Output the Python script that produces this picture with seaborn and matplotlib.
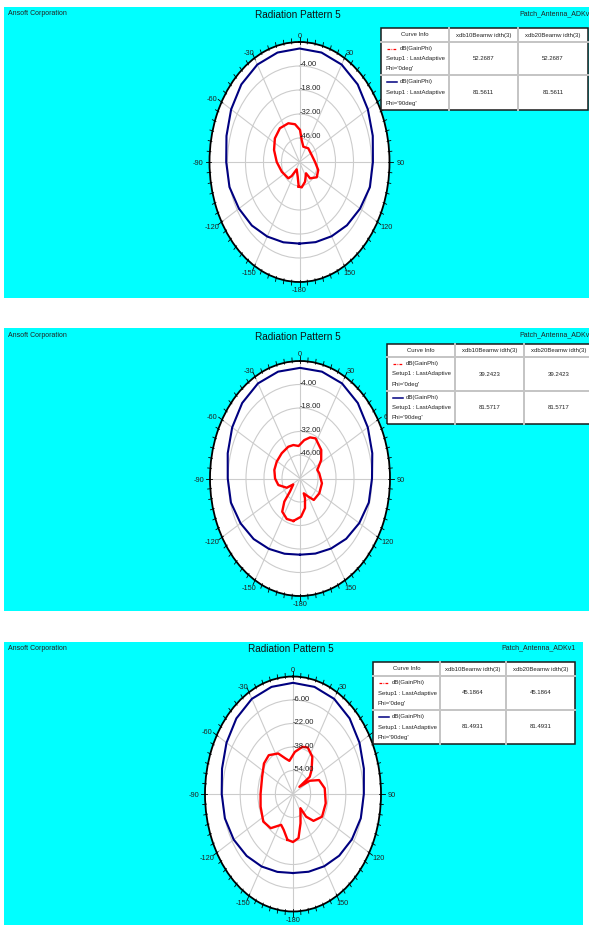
import numpy as np
import matplotlib
matplotlib.use("Agg")
import matplotlib.pyplot as plt
from matplotlib.patches import Rectangle
from matplotlib.lines import Line2D
import seaborn as sns

W, H = 589, 925

# ---- data (angle in deg, gain in dB) ----
theta_ticks = [0, 30, 60, 90, 120, 150, 180, 210, 240, 270, 300, 330]
theta_labels = ["0", "30", "60", "90", "120", "150", "-180", "-150", "-120", "-90", "-60", "-30"]

blue_ang = [-180, -165, -150, -135, -120, -105, -90, -75, -60, -45, -30, -15,
            0, 15, 30, 45, 60, 75, 90, 105, 120, 135, 150, 165]

# panel 1
red1_ang = [-177.6, -170.8, -152.9, -143.4, -137.5, -112.4, -90, -70.5, -54.2, -37.7,
            -21, -9, 1.2, 7.6, 18.6, 40.4, 66.7, 90, 107.8, 123.6, 139.2, 142.3, 159.5, 173.4]
red1_db = [-45.6, -51.3, -55.2, -49.8, -47.1, -45.1, -42.3, -39.0, -36.4, -35.1,
           -35.8, -37.7, -41.3, -47.1, -50.6, -49.5, -49.7, -47.9, -44.7, -43.9, -47.4, -51.7, -47.7, -45.1]
blue1_db = [-12.4, -11.5, -9.8, -7.6, -5.6, -3.6, -3.0, -1.2, 1.4, 4.0, 5.6, 6.1,
            6.2, 6.1, 5.6, 4.0, 1.4, -1.0, -2.9, -3.3, -5.6, -7.8, -10.0, -11.6]
rings1 = [-46, -32, -18, -4]
beam1 = [["52.2687", "52.2687"], ["81.5611", "81.5611"]]

# panel 2
red2_ang = [-168.4, -156.9, -145, -138.5, -135, -124, -118, -103, -90, -75.7, -61, -43.4,
            -25.7, -14.6, -3.2, 8.2, 17.7, 26.9, 44.2, 56.3, 69.3, 78.3, 99.6, 120.4,
            140, 149, 161.8, 161.7, 167.6, 178]
red2_db = [-34.2, -33.8, -35.9, -41.6, -48.9, -53.7, -48.3, -42.7, -40.6, -39.4, -39.3, -39.3,
           -39.0, -39.4, -40.6, -36.9, -34.3, -33.2, -36.3, -40.2, -45.6, -44.7, -42.7, -42.6,
           -43.3, -47.4, -50.7, -47.6, -41.9, -37.2]
blue2_db = [-14.6, -13.6, -11.6, -9.0, -6.6, -4.4, -3.8, -1.8, 0.9, 3.6, 5.4, 5.9,
            5.9, 5.9, 5.4, 3.6, 0.9, -1.8, -4.0, -4.6, -6.8, -9.2, -11.8, -13.7]
rings2 = [-46, -32, -18, -4]
beam2 = [["39.2423", "39.2423"], ["81.5717", "81.5717"]]

# panel 3
red3_ang = [-170.9, -160.8, -152.8, -138.9, -124.8, -106.3, -90, -67.4, -51.8, -39.8, -26,
            -15.7, -8.3, 3.4, 14.8, 23, 34.8, 46, 52.4, 50, 59.4, 68.2, 82.3, 102, 120.3,
            134.5, 142.3, 145, 161, 170.5, 180]
red3_db = [-38.4, -44.2, -46.4, -39.1, -37.1, -39.3, -40.5, -39.6, -36.4, -35.6, -39.3,
           -44.9, -47.2, -41.3, -36.8, -35.6, -39.2, -46.5, -50.8, -62.4, -52.3, -44.5, -40.9,
           -39.6, -39.4, -43.9, -50.5, -58.2, -49.0, -39.6, -37.3]
blue3_db = [-16.2, -15.1, -13.0, -10.4, -7.8, -5.9, -5.2, -3.2, -0.2, 2.8, 4.8, 5.5,
            5.7, 5.5, 4.8, 2.8, -0.2, -3.3, -5.6, -6.2, -8.2, -10.6, -13.2, -15.2]
rings3 = [-54, -38, -22, -6]
beam3 = [["45.1864", "45.1864"], ["81.4931", "81.4931"]]

header = ["Curve Info", "xdb10Beamw idth(3)", "xdb20Beamw idth(3)"]
curve_text = [["dB(GainPhi)", "Setup1 : LastAdaptive", "Phi='0deg'"],
              ["dB(GainPhi)", "Setup1 : LastAdaptive", "Phi='90deg'"]]

plt.rcParams['font.family'] = ['Liberation Sans Narrow', 'Liberation Sans', 'DejaVu Sans']

fig = plt.figure(figsize=(W / 100, H / 100), dpi=100)


def fx(x):
    return x / W


def fy(y):
    return 1 - y / H


def closed(a, b):
    a = list(a) + [a[0]]
    b = list(b) + [b[0]]
    return np.radians(a), np.array(b)


def draw_table(xs, ys, vals):
    x0, x3 = xs[0], xs[-1]
    y0, y3 = ys[0], ys[-1]
    fig.add_artist(Rectangle((fx(x0), fy(y3)), (x3 - x0) / W, (y3 - y0) / H,
                             transform=fig.transFigure, facecolor="white", edgecolor="none"))
    for x in xs[1:-1]:
        fig.add_artist(Line2D([fx(x), fx(x)], [fy(y0), fy(y3)], transform=fig.transFigure,
                              color="#c4c4c4", lw=1.4))
    for y in ys[1:-1]:
        fig.add_artist(Line2D([fx(x0), fx(x3)], [fy(y), fy(y)], transform=fig.transFigure,
                              color="#c4c4c4", lw=1.4))
    fig.add_artist(Rectangle((fx(x0), fy(y3)), (x3 - x0) / W, (y3 - y0) / H,
                             transform=fig.transFigure, facecolor="none", edgecolor="#1a1a1a", lw=1.1))
    hy = (ys[0] + ys[1]) / 2
    for i in range(3):
        fig.text(fx((xs[i] + xs[i + 1]) / 2), fy(hy), header[i], fontsize=4.3,
                 ha="center", va="center", color="#222222")
    styles = [dict(color="red", ls=(0, (2.2, 1, 0.6, 1)), lw=0.9), dict(color="#000080", ls="-", lw=1.1)]
    for r in range(2):
        top, bot = ys[r + 1], ys[r + 2]
        mid = (top + bot) / 2
        l1, l2, l3 = top + 6.5, mid, bot - 6.5
        fig.add_artist(Line2D([fx(xs[0] + 5.5), fx(xs[0] + 15.5)], [fy(l1), fy(l1)],
                              transform=fig.transFigure, **styles[r]))
        fig.text(fx(xs[0] + 19), fy(l1), curve_text[r][0], fontsize=4.3, ha="left", va="center", color="#222222")
        fig.text(fx(xs[0] + 5), fy(l2), curve_text[r][1], fontsize=4.3, ha="left", va="center", color="#222222")
        fig.text(fx(xs[0] + 5), fy(l3), curve_text[r][2], fontsize=4.3, ha="left", va="center", color="#222222")
        for c in range(2):
            fig.text(fx((xs[c + 1] + xs[c + 2]) / 2), fy(mid), vals[r][c], fontsize=4.3,
                     ha="center", va="center", color="#222222")


def draw_panel(bg, cx, cy, hr, vr, rmin, rings, red_a, red_d, blue_d,
               title_x, head_y, patch_x, patch_ha, xs, ys, vals):
    x0, y0, x1, y1 = bg
    fig.add_artist(Rectangle((fx(x0), fy(y1)), (x1 - x0) / W, (y1 - y0) / H,
                             transform=fig.transFigure, facecolor="#00ffff", edgecolor="none", zorder=0))
    fig.text(fx(7.5), fy(head_y), "Ansoft Corporation", fontsize=5, ha="left", va="center", color="#222222")
    fig.text(fx(title_x), fy(head_y + 1.5), "Radiation Pattern 5", fontsize=7.2, ha="center", va="center",
             color="#111111")
    fig.text(fx(patch_x), fy(head_y), "Patch_Antenna_ADKv1", fontsize=5, ha=patch_ha, va="center",
             color="#222222")

    ax = fig.add_axes([fx(cx - hr), fy(cy + vr), 2 * hr / W, 2 * vr / H], projection="polar")
    ax.set_aspect("auto")
    ax.set_theta_zero_location("N")
    ax.set_theta_direction(-1)
    ax.set_facecolor("white")
    ax.set_ylim(rmin, 10)
    ax.set_xticks(np.radians(theta_ticks))
    ax.set_xticklabels([])
    ax.tick_params(axis="x", length=0)
    ax.set_yticks(rings)
    ax.set_yticklabels([])
    ax.grid(True, color="#cccccc", lw=0.8)
    ax.spines["polar"].set_linewidth(1.3)
    ax.spines["polar"].set_color("black")

    # angle labels just outside the rim
    for t, lab in zip(theta_ticks, theta_labels):
        a = np.radians(t)
        ax.annotate(lab, xy=(a, 10), xytext=(11 * np.sin(a), 7.5 * np.cos(a) - 1.5),
                    textcoords="offset pixels", fontsize=5.3, ha="center", va="center",
                    color="#222222", annotation_clip=False)

    # rim ticks every 5 deg
    span = 10 - rmin
    for t in range(0, 360, 5):
        a = np.radians(t)
        ln = (3.0 if t % 30 == 0 else 2.1) * span / 70
        ax.plot([a, a], [10 - 0.4 * ln, 10 + ln], color="black", lw=0.6, clip_on=False)

    for r in rings:
        ax.text(0, r + 0.6, f"{r:.2f}", fontsize=5.5, ha="left", va="center", color="#222222")

    ta, td = closed(blue_ang, blue_d)
    sns.lineplot(x=ta, y=td, sort=False, estimator=None, color="#000080", lw=1.5, ax=ax)
    ta, td = closed(red_a, red_d)
    sns.lineplot(x=ta, y=td, sort=False, estimator=None, color="#ff0000", lw=1.7, ax=ax)
    ax.set_xlabel("")
    ax.set_ylabel("")

    draw_table(xs, ys, vals)


draw_panel((4, 7, 589, 298), 299.5, 162, 90, 120, -60, rings1, red1_ang, red1_db, blue1_db,
           298, 13.5, 519, "left", [381, 449, 518, 588], [28, 42, 75, 110], beam1)
draw_panel((4, 328, 589, 611), 300, 478.5, 90, 117.5, -60, rings2, red2_ang, red2_db, blue2_db,
           298, 335, 519, "left", [387, 455, 524, 593], [344, 357, 391, 424], beam2)
draw_panel((4, 642, 583, 925), 293, 794, 88, 117.5, -70, rings3, red3_ang, red3_db, blue3_db,
           291, 648, 576, "right", [373, 440, 506, 575], [662, 676, 710, 744], beam3)

fig.savefig("out.png", dpi=100, facecolor="white")
